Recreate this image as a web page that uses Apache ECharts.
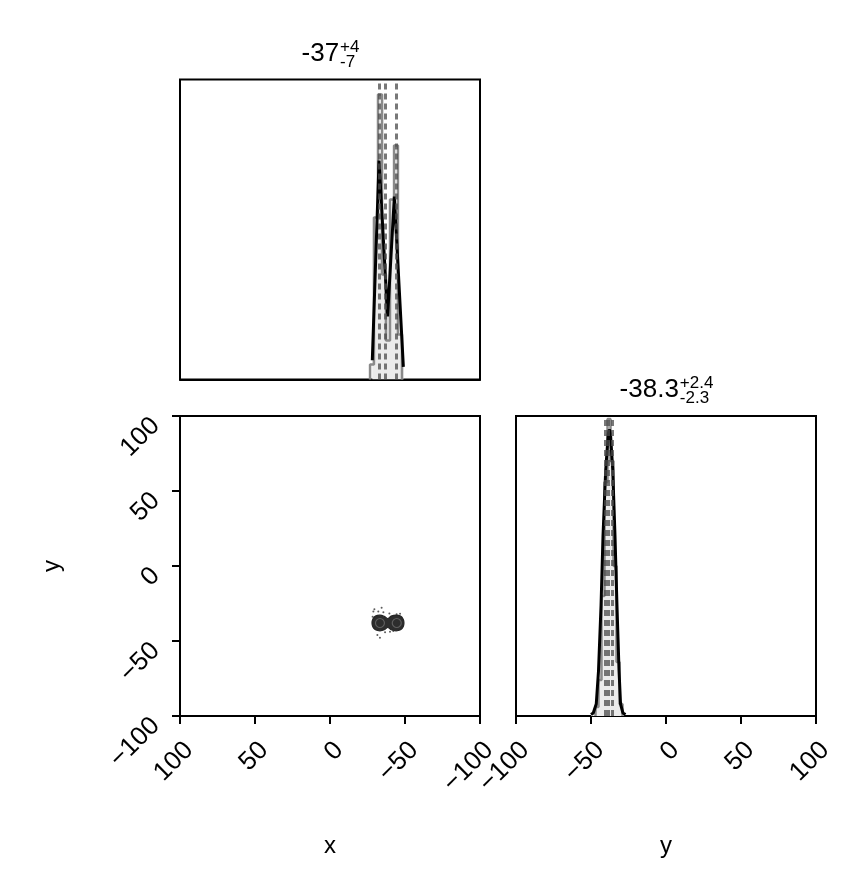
<!DOCTYPE html>
<html>
<head>
<meta charset="UTF-8">
<title>Corner plot</title>
<script src="https://cdn.jsdelivr.net/npm/echarts@6/dist/echarts.min.js"></script>
<style>
  html, body { margin: 0; padding: 0; background: #fff; }
  #main { width: 848px; height: 888px; }
</style>
</head>
<body>
<div id="main"></div>
<script>
// ---- values ----
var axisTicks = [-100, -50, 0, 50, 100];

// x marginal: smoothed density (black) + histogram steps (grey)
var xDensX = [-28.2, -32.7, -38.4, -42.9, -48.9];
var xDensY = [0.064, 0.73, 0.21, 0.61, 0.042];
var xHistEdges = [-26.7, -29.3, -32, -34.7, -37.3, -40, -42.7, -45.3, -48];
var xHistCounts = [0.05, 0.54, 0.95, 0.35, 0.13, 0.6, 0.78, 0.15];
var xQuantiles = [-33, -37, -44];

// y marginal
var yDensX = [-50, -48.5, -46.5, -45, -43.3, -42, -40.2, -38.5, -37.8, -37, -35.5, -34, -32.7, -31.3, -30.3, -28.7, -27];
var yDensY = [0.005, 0.01, 0.04, 0.15, 0.37, 0.6, 0.82, 0.94, 0.955, 0.94, 0.82, 0.6, 0.37, 0.15, 0.04, 0.01, 0.005];
var yHistEdges = [-47, -45, -43, -41, -39, -37, -35, -33, -31, -29];
var yHistCounts = [0.03, 0.12, 0.4, 0.78, 0.99, 0.85, 0.5, 0.18, 0.04];
var yQuantiles = [-40.6, -38.3, -35.9];

// joint panel: density contours (x, y pairs) and stray samples
var outerContour = [[-28, -38], [-28.6, -35.3], [-30.3, -33.4], [-33.3, -32.8], [-36.2, -33.6], [-38.5, -35],
  [-40.8, -33.4], [-44, -32.7], [-47, -33.4], [-48.8, -35.5], [-49.3, -38], [-48.8, -40.5], [-47, -42.5],
  [-44, -43.2], [-40.8, -42.5], [-38.5, -41], [-36.2, -42.5], [-33.3, -43.2], [-30.3, -42.5], [-28.6, -40.6]];
var leftRing = [[-30.3, -38], [-31.2, -35.9], [-33.3, -35], [-35.4, -35.9], [-36.3, -38], [-35.4, -40.1], [-33.3, -41], [-31.2, -40.1]];
var rightRing = [[-41.5, -38], [-42.4, -35.9], [-44.5, -35], [-46.6, -35.9], [-47.5, -38], [-46.6, -40.1], [-44.5, -41], [-42.4, -40.1]];
var straySamples = [[-34.4, -27.8], [-29.6, -28.9], [-32.2, -30.4], [-35.6, -30.9], [-39.6, -31.6], [-44.4, -32.2],
  [-46.7, -31.8], [-28.4, -33.8], [-31.1, -41.6], [-33.3, -42.2], [-36.7, -44.2], [-40, -43.8], [-42.2, -43.3],
  [-31.6, -46], [-33.3, -47.8], [-28.9, -30.4]];

// ---- layout ----
var FONT = '"Liberation Sans", Arial, sans-serif';
var S = 300;
var L1 = 180, L2 = 516, T1 = 79.5, T2 = 416;

function minusFmt(v) { return v < 0 ? '\u2212' + Math.abs(v) : String(v); }

function steps(edges, counts) {
  var pts = [[edges[0], 0]];
  for (var i = 0; i < counts.length; i++) {
    pts.push([edges[i], counts[i]]);
    pts.push([edges[i + 1], counts[i]]);
  }
  pts.push([edges[edges.length - 1], 0]);
  return pts;
}
function pairs(xs, ys) { return xs.map(function (x, i) { return [x, ys[i]]; }); }

function grid(left, top) {
  return { left: left, top: top, width: S, height: S, containLabel: false,
    show: true, borderColor: '#000', borderWidth: 2, backgroundColor: 'transparent' };
}

function valueAxis(gi, inverse, withTicks, name, gap, margin, lh) {
  return {
    type: 'value', gridIndex: gi, min: -100, max: 100, interval: 50, inverse: inverse,
    axisLine: { show: true, onZero: false, lineStyle: { color: '#000', width: 2 } },
    axisTick: { show: withTicks, length: 8, lineStyle: { color: '#000', width: 2 } },
    axisLabel: withTicks ? { show: true, rotate: 45, margin: margin, fontSize: 26, lineHeight: lh || 26,
      color: '#000', fontFamily: FONT, align: 'right', verticalAlign: 'top', formatter: minusFmt } : { show: false },
    splitLine: { show: false },
    name: name || '', nameLocation: 'middle', nameGap: gap || 0,
    nameTextStyle: { fontSize: 24, color: '#000', fontFamily: FONT }
  };
}
function hiddenY(gi) {
  return { type: 'value', gridIndex: gi, min: 0, max: 1, show: false, splitLine: { show: false } };
}

function marginalSeries(axisIdx, densX, densY, edges, counts, quant) {
  var dens = pairs(densX, densY);
  return [
    { type: 'line', xAxisIndex: axisIdx, yAxisIndex: axisIdx, data: dens, symbol: 'none',
      lineStyle: { width: 0, opacity: 0 }, areaStyle: { color: '#ebebeb', opacity: 1 }, z: 1, silent: true },
    { type: 'line', xAxisIndex: axisIdx, yAxisIndex: axisIdx, data: steps(edges, counts), symbol: 'none',
      lineStyle: { color: '#8a8a8a', width: 2.5 }, z: 2, silent: true,
      markLine: { symbol: 'none', silent: true, label: { show: false },
        lineStyle: { color: 'rgba(75,75,75,0.75)', width: 3, type: [6, 4] },
        data: quant.map(function (q) { return { xAxis: q }; }) } },
    { type: 'line', xAxisIndex: axisIdx, yAxisIndex: axisIdx, data: dens, symbol: 'none',
      lineStyle: { color: '#000', width: 3 }, z: 4, silent: true }
  ];
}

var contours = [
  { pts: outerContour, fill: '#2d2d2d', stroke: '#262626' },
  { pts: leftRing, fill: 'none', stroke: '#5e5e5e' },
  { pts: rightRing, fill: 'none', stroke: '#5e5e5e' }
];

// centred title: main value with stacked +/- errors
function titleText(cx, mid, up, down, yMid) {
  var ctx = document.createElement('canvas').getContext('2d');
  ctx.font = '26px ' + FONT;
  var wMain = ctx.measureText(mid).width;
  ctx.font = '17px ' + FONT;
  var wScr = Math.max(ctx.measureText(up).width, ctx.measureText(down).width);
  var x0 = cx - (wMain + wScr) / 2;
  return [
    { type: 'text', x: x0, y: yMid, style: { text: mid, fontSize: 26, fontFamily: FONT, fill: '#000', textAlign: 'left', textVerticalAlign: 'middle' } },
    { type: 'text', x: x0 + wMain + 1, y: yMid - 7, style: { text: up, fontSize: 17, fontFamily: FONT, fill: '#000', textAlign: 'left', textVerticalAlign: 'middle' } },
    { type: 'text', x: x0 + wMain + 1, y: yMid + 8, style: { text: down, fontSize: 17, fontFamily: FONT, fill: '#000', textAlign: 'left', textVerticalAlign: 'middle' } }
  ];
}

var option = {
  backgroundColor: '#fff',
  animation: false,
  grid: [grid(L1, T1), grid(L1, T2), grid(L2, T2)],
  xAxis: [
    valueAxis(0, true, false),
    valueAxis(1, true, true, 'x', 118, 21),
    valueAxis(2, false, true, 'y', 118, 21)
  ],
  yAxis: [
    hiddenY(0),
    valueAxis(1, false, true, 'y', 116, 30, 16),
    hiddenY(2)
  ],
  graphic: titleText(L1 + S / 2, '-37', '+4', '-7', 54).concat(titleText(L2 + S / 2, '-38.3', '+2.4', '-2.3', 390)),
  series: marginalSeries(0, xDensX, xDensY, xHistEdges, xHistCounts, xQuantiles)
    .concat(marginalSeries(2, yDensX, yDensY, yHistEdges, yHistCounts, yQuantiles))
    .concat([
      { type: 'custom', xAxisIndex: 1, yAxisIndex: 1, silent: true, z: 3,
        data: contours.map(function (c, i) { return [c.pts[0][0], c.pts[0][1], i]; }),
        renderItem: function (params, api) {
          var c = contours[params.dataIndex];
          var pts = c.pts.map(function (p) { return api.coord(p); });
          return { type: 'polygon', shape: { points: pts, smooth: 0.4 },
            style: { fill: c.fill, stroke: c.stroke, lineWidth: 1.2 } };
        } },
      { type: 'scatter', xAxisIndex: 1, yAxisIndex: 1, data: straySamples, symbolSize: 2,
        itemStyle: { color: '#333' }, silent: true, z: 3 }
    ])
};

var chart = echarts.init(document.getElementById('main'));
chart.setOption(option);
</script>
</body>
</html>
